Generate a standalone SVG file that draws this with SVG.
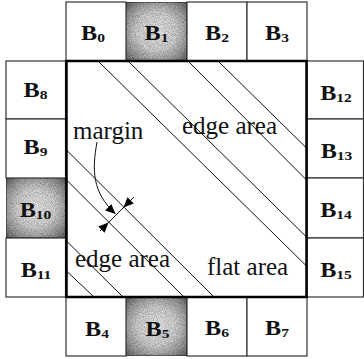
<svg xmlns="http://www.w3.org/2000/svg" width="364" height="359" viewBox="0 0 364 359">
<defs>
<radialGradient id="gray" cx="0.5" cy="0.5" r="0.72">
<stop offset="0" stop-color="#eeeeee"/>
<stop offset="0.45" stop-color="#d4d4d4"/>
<stop offset="0.75" stop-color="#999999"/>
<stop offset="1" stop-color="#555555"/>
</radialGradient>
<filter id="grain" x="0" y="0" width="1" height="1" color-interpolation-filters="sRGB">
<feTurbulence type="fractalNoise" baseFrequency="1.1" numOctaves="1" seed="4" result="n"/>
<feColorMatrix in="n" type="saturate" values="0" result="g"/>
<feComponentTransfer in="g" result="g2">
<feFuncR type="linear" slope="0.9" intercept="0.45"/>
<feFuncG type="linear" slope="0.9" intercept="0.45"/>
<feFuncB type="linear" slope="0.9" intercept="0.45"/>
<feFuncA type="linear" slope="0" intercept="1"/>
</feComponentTransfer>
<feBlend in="SourceGraphic" in2="g2" mode="multiply"/>
</filter>
<marker id="ah" viewBox="0 0 10 10" refX="10" refY="5" markerWidth="10" markerHeight="10" markerUnits="userSpaceOnUse" orient="auto">
<path d="M0,0.5 L10,5 L0,9.5 z" fill="#000"/>
</marker>
<style>
.box{fill:#fff;stroke:#333;stroke-width:1.2}
.hl{fill:url(#gray);stroke:#333;stroke-width:1.2;filter:url(#grain)}
.lbl{font-family:"Liberation Serif","Times New Roman",serif;font-weight:bold;font-size:21px;text-anchor:middle;fill:#111}
.sub{font-size:13.5px}
.txt{font-family:"Liberation Serif","Times New Roman",serif;font-size:25px;fill:#111}
.hatch line{stroke:#111;stroke-width:1}
.conn path{fill:none;stroke:#111;stroke-width:1}
</style>
</defs>
<rect width="364" height="359" fill="#fff"/>

<!-- top row -->
<g id="B0"><rect class="box" x="66" y="2" width="60" height="59"/><text class="lbl" transform="translate(93,39.5) scale(1.15,1)">B<tspan class="sub" dy="2">0</tspan></text></g>
<g id="B1"><rect class="hl" x="126" y="2" width="61" height="59"/><text class="lbl" transform="translate(156.5,39.5) scale(1.15,1)">B<tspan class="sub" dy="2">1</tspan></text></g>
<g id="B2"><rect class="box" x="187" y="2" width="60" height="59"/><text class="lbl" transform="translate(217,39.5) scale(1.15,1)">B<tspan class="sub" dy="2">2</tspan></text></g>
<g id="B3"><rect class="box" x="247" y="2" width="60" height="59"/><text class="lbl" transform="translate(277,39.5) scale(1.15,1)">B<tspan class="sub" dy="2">3</tspan></text></g>

<!-- left column -->
<g id="B8"><rect class="box" x="6" y="61" width="59.5" height="58"/><text class="lbl" transform="translate(35.5,96.5) scale(1.15,1)">B<tspan class="sub" dy="2">8</tspan></text></g>
<g id="B9"><rect class="box" x="6" y="119" width="59.5" height="59"/><text class="lbl" transform="translate(35.5,154) scale(1.15,1)">B<tspan class="sub" dy="2">9</tspan></text></g>
<g id="B10"><rect class="hl" x="6" y="178" width="59.5" height="60"/><text class="lbl" transform="translate(35.5,216.5) scale(1.15,1)">B<tspan class="sub" dy="2">10</tspan></text></g>
<g id="B11"><rect class="box" x="6" y="238" width="59.5" height="59"/><text class="lbl" transform="translate(36,276.5) scale(1.15,1)">B<tspan class="sub" dy="2">11</tspan></text></g>

<!-- right column -->
<g id="B12"><rect class="box" x="307" y="61" width="56.5" height="58"/><text class="lbl" transform="translate(336,99.5) scale(1.15,1)">B<tspan class="sub" dy="2">12</tspan></text></g>
<g id="B13"><rect class="box" x="307" y="119" width="56.5" height="59"/><text class="lbl" transform="translate(336.5,157.5) scale(1.15,1)">B<tspan class="sub" dy="2">13</tspan></text></g>
<g id="B14"><rect class="box" x="307" y="178" width="56.5" height="60"/><text class="lbl" transform="translate(336,216.5) scale(1.15,1)">B<tspan class="sub" dy="2">14</tspan></text></g>
<g id="B15"><rect class="box" x="307" y="238" width="56.5" height="59"/><text class="lbl" transform="translate(336,276.5) scale(1.15,1)">B<tspan class="sub" dy="2">15</tspan></text></g>

<!-- bottom row -->
<g id="B4"><rect class="box" x="66" y="297" width="60" height="59"/><text class="lbl" transform="translate(97,336) scale(1.15,1)">B<tspan class="sub" dy="2">4</tspan></text></g>
<g id="B5"><rect class="hl" x="126" y="297" width="61" height="59"/><text class="lbl" transform="translate(157.5,336) scale(1.15,1)">B<tspan class="sub" dy="2">5</tspan></text></g>
<g id="B6"><rect class="box" x="187" y="297" width="60" height="59"/><text class="lbl" transform="translate(217,335) scale(1.15,1)">B<tspan class="sub" dy="2">6</tspan></text></g>
<g id="B7"><rect class="box" x="247" y="297" width="60" height="59"/><text class="lbl" transform="translate(277,335) scale(1.15,1)">B<tspan class="sub" dy="2">7</tspan></text></g>

<!-- central block -->
<g id="block">
<g class="hatch">
<line x1="98" y1="61" x2="306.5" y2="266"/>
<line x1="128" y1="61" x2="306.5" y2="237"/>
<line x1="188" y1="61" x2="306.5" y2="180"/>
<line x1="218" y1="61" x2="306.5" y2="148"/>
<line x1="66.5" y1="150" x2="214" y2="297"/>
<line x1="66.5" y1="180" x2="184" y2="297"/>
<line x1="66.5" y1="241" x2="123" y2="297"/>
<line x1="66.5" y1="271" x2="94" y2="297"/>
</g>
<rect x="66.5" y="61" width="240" height="236" fill="none" stroke="#000" stroke-width="2.5"/>
<text class="txt" x="182" y="133.5">edge area</text>
<text class="txt" x="73" y="138.5">margin</text>
<text class="txt" x="75" y="266.5">edge area</text>
<text class="txt" x="207" y="275">flat area</text>
</g>

<!-- connectors -->
<g id="connectors" class="conn">
<path d="M97,142 C92,170 92,192 115.5,214" marker-end="url(#ah)"/>
<path d="M100,231 L134,197"/>
<path d="M134,197 L123.5,207.5" marker-end="url(#ah)"/>
<path d="M100,231 L108.5,222.5" marker-end="url(#ah)"/>
</g>
</svg>
